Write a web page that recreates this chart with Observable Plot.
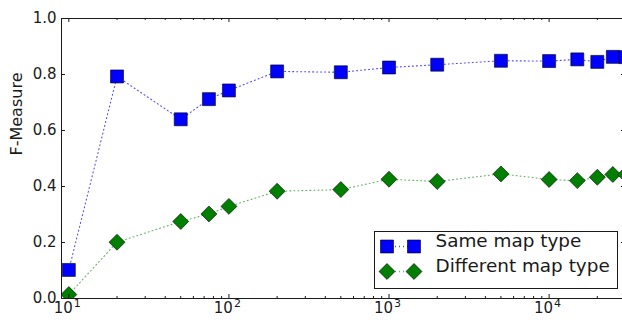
<!DOCTYPE html>
<html><head><meta charset="utf-8">
<script src="https://cdn.jsdelivr.net/npm/d3@7"></script>
<script src="https://cdn.jsdelivr.net/npm/@observablehq/plot@0.6"></script>
<style>body{margin:0;background:#fff;}</style>
</head><body><div id="chart"></div>
<script>
// ---- data ----
const sampleSizes = [10, 20, 50, 75, 100, 200, 500, 1000, 2000, 5000, 10000, 15000, 20000, 25000, 30000];
const sameMapType = [0.102, 0.793, 0.640, 0.712, 0.743, 0.811, 0.808, 0.825, 0.835, 0.849, 0.848, 0.854, 0.845, 0.863, 0.862];
const differentMapType = [0.014, 0.201, 0.275, 0.302, 0.329, 0.383, 0.389, 0.426, 0.418, 0.445, 0.425, 0.421, 0.433, 0.443, 0.443];
const seriesNames = ["Same map type", "Different map type"];
const xMajorTicks = [10, 100, 1000, 10000];
const xTickBase = "10";
const xTickExponents = ["1", "2", "3", "4"];
const yTicks = [0, 0.2, 0.4, 0.6, 0.8, 1.0];
const yLabel = "F-Measure";
const xDomain = [9, 30000];
const yDomain = [0, 1];

// ---- layout ----
const W = 622, H = 320, mL = 61, mR = -3, mT = 18, mB = 22;
const frameW = W - mL - mR, frameH = H - mT - mB;
const ink = "#1a1a1a";

const same = sampleSizes.map((x, i) => ({x, y: sameMapType[i]}));
const diff = sampleSizes.map((x, i) => ({x, y: differentMapType[i]}));
const xMinorTicks = d3.scaleLog().domain(xDomain).ticks()
  .filter(t => t > xDomain[0] && !xMajorTicks.includes(t));

const squareR = 7.33, diamondR = 7.2;
const dotted = "1,3";
const hline = {draw(ctx) { ctx.moveTo(-13.5, 0); ctx.lineTo(13.5, 0); }};
const blue = "#0000ff", green = "#007f00";

const legendX0 = -238.5, legendX1 = -211.5, legendXm = -225, legendTextX = -190;
const row1 = -52, row2 = -27;

const chart = Plot.plot({
  width: W, height: H,
  marginLeft: mL, marginRight: mR, marginTop: mT, marginBottom: mB,
  style: {fontFamily: "DejaVu Sans", fontSize: "15px", color: ink, background: "#fff"},
  x: {type: "log", domain: xDomain, axis: null},
  y: {domain: yDomain, axis: null},
  marks: [
    // data lines and markers
    Plot.line(same, {x: "x", y: "y", stroke: blue, strokeOpacity: 0.7, strokeWidth: 1.1, strokeDasharray: dotted, clip: true}),
    Plot.line(diff, {x: "x", y: "y", stroke: green, strokeOpacity: 0.6, strokeWidth: 1.1, strokeDasharray: dotted, clip: true}),
    Plot.dot(same, {x: "x", y: "y", symbol: "square", r: squareR, fill: blue, stroke: "#000", strokeWidth: 0.6, clip: true}),
    Plot.dot(diff, {x: "x", y: "y", symbol: "diamond2", r: diamondR, fill: green, stroke: "#000", strokeWidth: 0.6, clip: true}),
    // ticks (inward, on all sides)
    Plot.tickX(xMajorTicks, {x: d => d, insetTop: frameH - 4, stroke: ink}),
    Plot.tickX(xMajorTicks, {x: d => d, insetBottom: frameH - 4, stroke: ink}),
    Plot.tickX(xMinorTicks, {x: d => d, insetTop: frameH - 2, stroke: ink}),
    Plot.tickX(xMinorTicks, {x: d => d, insetBottom: frameH - 2, stroke: ink}),
    Plot.tickY(yTicks, {y: d => d, insetRight: frameW - 4, stroke: ink}),
    Plot.tickY(yTicks, {y: d => d, insetLeft: frameW - 4, stroke: ink}),
    // spines
    Plot.frame({stroke: ink, strokeWidth: 1}),
    // tick labels
    Plot.axisY(yTicks, {tickSize: 0, tickPadding: 5, fontSize: 15, tickFormat: d3.format(".1f"), label: null}),
    Plot.text(xMajorTicks, {x: d => d, frameAnchor: "bottom", text: () => xTickBase, textAnchor: "end", dx: 4, dy: 14.5, fontSize: 15, fill: ink}),
    Plot.text(xMajorTicks, {x: d => d, frameAnchor: "bottom", text: (d, i) => xTickExponents[i], textAnchor: "start", dx: 5, dy: 8.5, fontSize: 11, fill: ink}),
    // y label
    Plot.text([yLabel], {text: d => d, frameAnchor: "left", rotate: -90, dx: -45, dy: -3, fontSize: 16, fill: ink}),
    // legend
    Plot.frame({fill: "#fff", stroke: ink, strokeWidth: 1, insetLeft: 313, insetRight: 8, insetTop: 213, insetBottom: 10}),
    Plot.dot([0], {frameAnchor: "bottom-right", dx: legendXm, dy: row1, symbol: hline, fill: "none", stroke: blue, strokeOpacity: 0.7, strokeDasharray: dotted}),
    Plot.dot([0], {frameAnchor: "bottom-right", dx: legendX0, dy: row1, symbol: "square", r: squareR, fill: blue, stroke: "#000", strokeWidth: 0.6}),
    Plot.dot([0], {frameAnchor: "bottom-right", dx: legendX1, dy: row1, symbol: "square", r: squareR, fill: blue, stroke: "#000", strokeWidth: 0.6}),
    Plot.dot([0], {frameAnchor: "bottom-right", dx: legendXm, dy: row2, symbol: hline, fill: "none", stroke: green, strokeOpacity: 0.6, strokeDasharray: dotted}),
    Plot.dot([0], {frameAnchor: "bottom-right", dx: legendX0, dy: row2, symbol: "diamond2", r: diamondR, fill: green, stroke: "#000", strokeWidth: 0.6}),
    Plot.dot([0], {frameAnchor: "bottom-right", dx: legendX1, dy: row2, symbol: "diamond2", r: diamondR, fill: green, stroke: "#000", strokeWidth: 0.6}),
    Plot.text([seriesNames[0]], {text: d => d, frameAnchor: "bottom-right", dx: legendTextX, dy: row1, textAnchor: "start", fontSize: 18.4, fill: ink}),
    Plot.text([seriesNames[1]], {text: d => d, frameAnchor: "bottom-right", dx: legendTextX, dy: row2, textAnchor: "start", fontSize: 18.4, fill: ink})
  ]
});
document.getElementById("chart").appendChild(chart);
</script>
</body></html>
